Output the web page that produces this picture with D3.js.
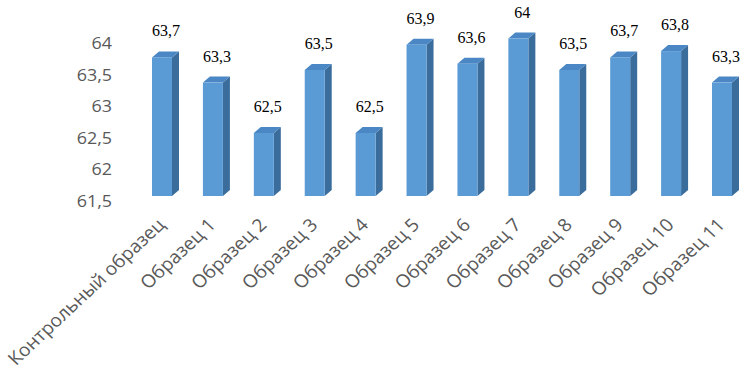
<!DOCTYPE html>
<html><head><meta charset="utf-8">
<script src="https://cdn.jsdelivr.net/npm/d3@7"></script>
<style>html,body{margin:0;padding:0;background:#fff;}svg{display:block;}</style>
</head><body>
<svg id="chart" width="755" height="381"></svg>
<script>
const categories = ["Контрольный образец","Образец 1","Образец 2","Образец 3","Образец 4","Образец 5","Образец 6","Образец 7","Образец 8","Образец 9","Образец 10","Образец 11"];
const values = [63.7, 63.3, 62.5, 63.5, 62.5, 63.9, 63.6, 64, 63.5, 63.7, 63.8, 63.3];
const valueLabels = ["63,7","63,3","62,5","63,5","62,5","63,9","63,6","64","63,5","63,7","63,8","63,3"];
const yTicks = [61.5, 62, 62.5, 63, 63.5, 64];
const yTickLabels = ["61,5","62","62,5","63","63,5","64"];

const svg = d3.select("#chart");
const x = d3.scalePoint().domain(categories).range([162, 722]);
const y = d3.scaleLinear().domain([61.5, 64]).range([196, 38.5]);
const barW = 20, dx = 7, dy = 6;
const cFront = "#5b9bd5", cSide = "#3b6d9c", cTop = "#4a87c4";

// y tick labels
svg.append("g").selectAll("text").data(yTicks).join("text")
  .attr("transform", d => `translate(112,${y(d) + 5}) scale(1.12,1)`)
  .attr("dy", "0.35em")
  .attr("text-anchor", "end")
  .style("font-family", "'Open Sans', sans-serif")
  .style("font-size", "16px")
  .style("fill", "#595959")
  .text((d, i) => yTickLabels[i]);

const bars = svg.append("g").selectAll("g").data(values).join("g");
// side face
bars.append("path")
  .attr("d", (d, i) => {
    const x1 = x(categories[i]) + barW / 2, yt = y(d), yb = y(61.5);
    return `M${x1},${yt}L${x1 + dx},${yt - dy}L${x1 + dx},${yb - dy}L${x1},${yb}Z`;
  })
  .attr("fill", cSide);
// top face
bars.append("path")
  .attr("d", (d, i) => {
    const x0 = x(categories[i]) - barW / 2, yt = y(d);
    return `M${x0},${yt}L${x0 + dx},${yt - dy}L${x0 + barW + dx},${yt - dy}L${x0 + barW},${yt}Z`;
  })
  .attr("fill", cTop);
// front face
bars.append("rect")
  .attr("x", (d, i) => x(categories[i]) - barW / 2)
  .attr("y", d => y(d))
  .attr("width", barW)
  .attr("height", d => y(61.5) - y(d))
  .attr("fill", cFront);

// value labels
svg.append("g").selectAll("text").data(values).join("text")
  .attr("x", (d, i) => x(categories[i]) + 4)
  .attr("y", d => y(d) - 21)
  .attr("text-anchor", "middle")
  .style("font-family", "'Liberation Serif', 'Times New Roman', serif")
  .style("font-size", "16px")
  .style("fill", "#000")
  .text((d, i) => valueLabels[i]);

// x category labels
svg.append("g").selectAll("text").data(categories).join("text")
  .attr("transform", d => `translate(${x(d) + 4},${226}) scale(1.07,1) rotate(-45)`)
  .attr("text-anchor", "end")
  .style("font-family", "'Open Sans', sans-serif")
  .style("font-size", "18px")
  .style("fill", "#595959")
  .text(d => d);
</script>
</body></html>
